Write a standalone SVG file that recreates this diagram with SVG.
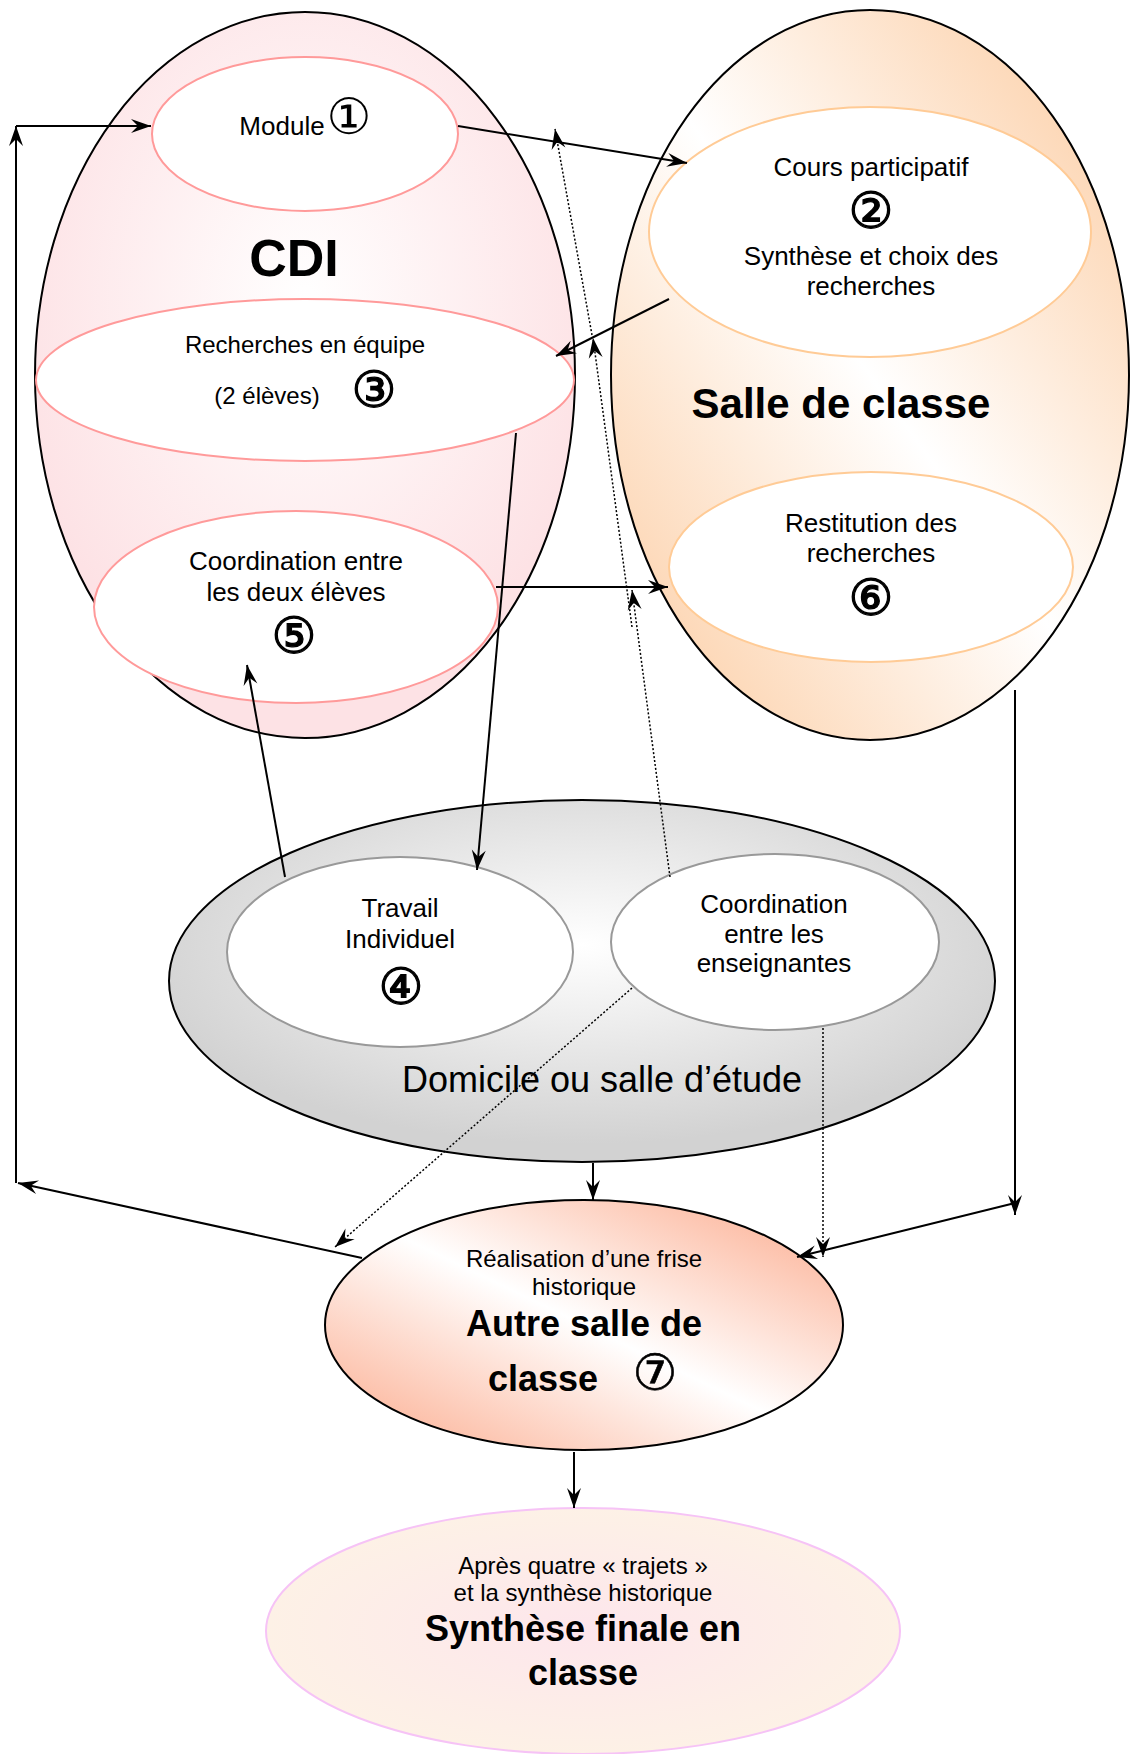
<svg xmlns="http://www.w3.org/2000/svg" width="1131" height="1754" viewBox="0 0 1131 1754">
<defs>
<radialGradient id="gCdi" cx="0.5" cy="0.4" r="0.55">
<stop offset="0" stop-color="#ffffff"/>
<stop offset="1" stop-color="#fde2e5"/>
</radialGradient>
<linearGradient id="gSalle" x1="0" y1="1" x2="1" y2="0">
<stop offset="0" stop-color="#fcc99c"/>
<stop offset="0.5" stop-color="#ffffff"/>
<stop offset="1" stop-color="#fcc99c"/>
</linearGradient>
<radialGradient id="gDom" cx="0.5" cy="0.4" r="0.55">
<stop offset="0" stop-color="#ffffff"/>
<stop offset="1" stop-color="#d2d2d2"/>
</radialGradient>
<linearGradient id="gAutre" x1="0" y1="1" x2="1" y2="0">
<stop offset="0.05" stop-color="#fcb094"/>
<stop offset="0.5" stop-color="#ffffff"/>
<stop offset="0.95" stop-color="#fcb094"/>
</linearGradient>
<radialGradient id="gFin" cx="0.5" cy="0.5" r="0.5">
<stop offset="0" stop-color="#fde6ec"/>
<stop offset="1" stop-color="#fdf1e6"/>
</radialGradient>
<marker id="ah" viewBox="-22 -8 24 16" markerWidth="24" markerHeight="16" refX="0" refY="0" markerUnits="userSpaceOnUse" orient="auto">
<path d="M0,0 L-20,-7 L-13,0 L-20,7 Z" fill="#000"/>
</marker>
</defs>
<style>
.outer{stroke:#000;stroke-width:2}
.in-red{fill:#fff;stroke:#ff9a9a;stroke-width:2}
.in-or{fill:#fff;stroke:#ffcb96;stroke-width:2}
.in-gr{fill:#fff;stroke:#999;stroke-width:2}
text{font-family:"Liberation Sans",Arial,sans-serif;fill:#000;text-anchor:middle}
.t26{font-size:26px}
.t24{font-size:24px}
.t36{font-size:36px}
.b{font-weight:bold}
.num{font-family:"DejaVu Sans",sans-serif;font-size:50px}
.thick{stroke:#000;stroke-width:1.3}
.mid{stroke:#000;stroke-width:0.6}
.con{fill:none;stroke:#000;stroke-width:2;marker-end:url(#ah)}
.dot{fill:none;stroke:#000;stroke-width:1.5;stroke-dasharray:2 2;marker-end:url(#ah)}
</style>

<g id="cdi">
<ellipse class="outer" cx="305" cy="375" rx="270" ry="363" fill="url(#gCdi)"/>
<text class="b" x="294" y="276" style="font-size:52px">CDI</text>
</g>
<g id="module">
<ellipse class="in-red" cx="305" cy="134" rx="153" ry="77"/>
<text class="t26" x="282" y="135">Module</text>
<text class="num" x="349" y="134">①</text>
</g>
<g id="recherches">
<ellipse class="in-red" cx="305" cy="380" rx="269" ry="81"/>
<text class="t24" x="305" y="353">Recherches en équipe</text>
<text class="t24" x="267" y="404">(2 élèves)</text>
<text class="num thick" x="374" y="407">③</text>
</g>
<g id="coord-eleves">
<ellipse class="in-red" cx="296" cy="607" rx="202" ry="96"/>
<text class="t26" x="296" y="570">Coordination entre</text>
<text class="t26" x="296" y="601">les deux élèves</text>
<text class="num thick" x="294" y="653">⑤</text>
</g>

<g id="salle">
<ellipse class="outer" cx="870" cy="375" rx="259" ry="365" fill="url(#gSalle)"/>
<text class="b" x="841" y="418" style="font-size:42px">Salle de classe</text>
</g>
<g id="cours">
<ellipse class="in-or" cx="870" cy="232" rx="221" ry="125"/>
<text class="t26" x="871" y="176">Cours participatif</text>
<text class="num thick" x="871" y="228">②</text>
<text class="t26" x="871" y="265">Synthèse et choix des</text>
<text class="t26" x="871" y="295">recherches</text>
</g>
<g id="restitution">
<ellipse class="in-or" cx="871" cy="567" rx="202" ry="95"/>
<text class="t26" x="871" y="532">Restitution des</text>
<text class="t26" x="871" y="562">recherches</text>
<text class="num thick" x="871" y="615">⑥</text>
</g>

<g id="domicile">
<ellipse class="outer" cx="582" cy="981" rx="413" ry="181" fill="url(#gDom)"/>
<text class="t36" x="602" y="1092">Domicile ou salle d’étude</text>
</g>
<g id="travail">
<ellipse class="in-gr" cx="400" cy="952" rx="173" ry="95"/>
<text class="t26" x="400" y="917">Travail</text>
<text class="t26" x="400" y="948">Individuel</text>
<text class="num thick" x="401" y="1004">④</text>
</g>
<g id="coord-ens">
<ellipse class="in-gr" cx="775" cy="942" rx="164" ry="88"/>
<text class="t26" x="774" y="913">Coordination</text>
<text class="t26" x="774" y="943">entre les</text>
<text class="t26" x="774" y="972">enseignantes</text>
</g>

<g id="autre-salle">
<ellipse class="outer" cx="584" cy="1325" rx="259" ry="125" fill="url(#gAutre)"/>
<text class="t24" x="584" y="1267">Réalisation d’une frise</text>
<text class="t24" x="584" y="1295">historique</text>
<text class="t36 b" x="584" y="1336">Autre salle de</text>
<text class="t36 b" x="543" y="1391">classe</text>
<text class="num mid" x="655" y="1390">⑦</text>
</g>

<g id="synthese-finale">
<ellipse cx="583" cy="1631" rx="317" ry="123" fill="url(#gFin)" stroke="#f6c3f6" stroke-width="2"/>
<text class="t24" x="583" y="1574">Après quatre « trajets »</text>
<text class="t24" x="583" y="1601">et la synthèse historique</text>
<text class="t36 b" x="583" y="1641">Synthèse finale en</text>
<text class="t36 b" x="583" y="1685">classe</text>
</g>

<g id="connectors">
<path class="con" d="M362,1258 L18,1183"/>
<path class="con" d="M16,1183 L16,126"/>
<path class="con" d="M16,126 L151,126"/>
<path class="con" d="M458,126 L687,163"/>
<path class="con" d="M669,299 L556,356"/>
<path class="con" d="M516,433 L477,870"/>
<path class="con" d="M285,877 L247,665"/>
<path class="con" d="M496,587 L668,587"/>
<path class="dot" d="M670,877 L632,590"/>
<path class="dot" d="M632,627 L593,338"/>
<path class="dot" d="M592,335 L555,129"/>
<path class="dot" d="M632,988 L335,1247"/>
<path class="dot" d="M823,1028 L823,1257"/>
<path class="con" d="M593,1163 L593,1200"/>
<path class="con" d="M1015,690 L1015,1215"/>
<path class="con" d="M1015,1203 L797,1257"/>
<path class="con" d="M574,1452 L574,1508"/>
</g>
</svg>
